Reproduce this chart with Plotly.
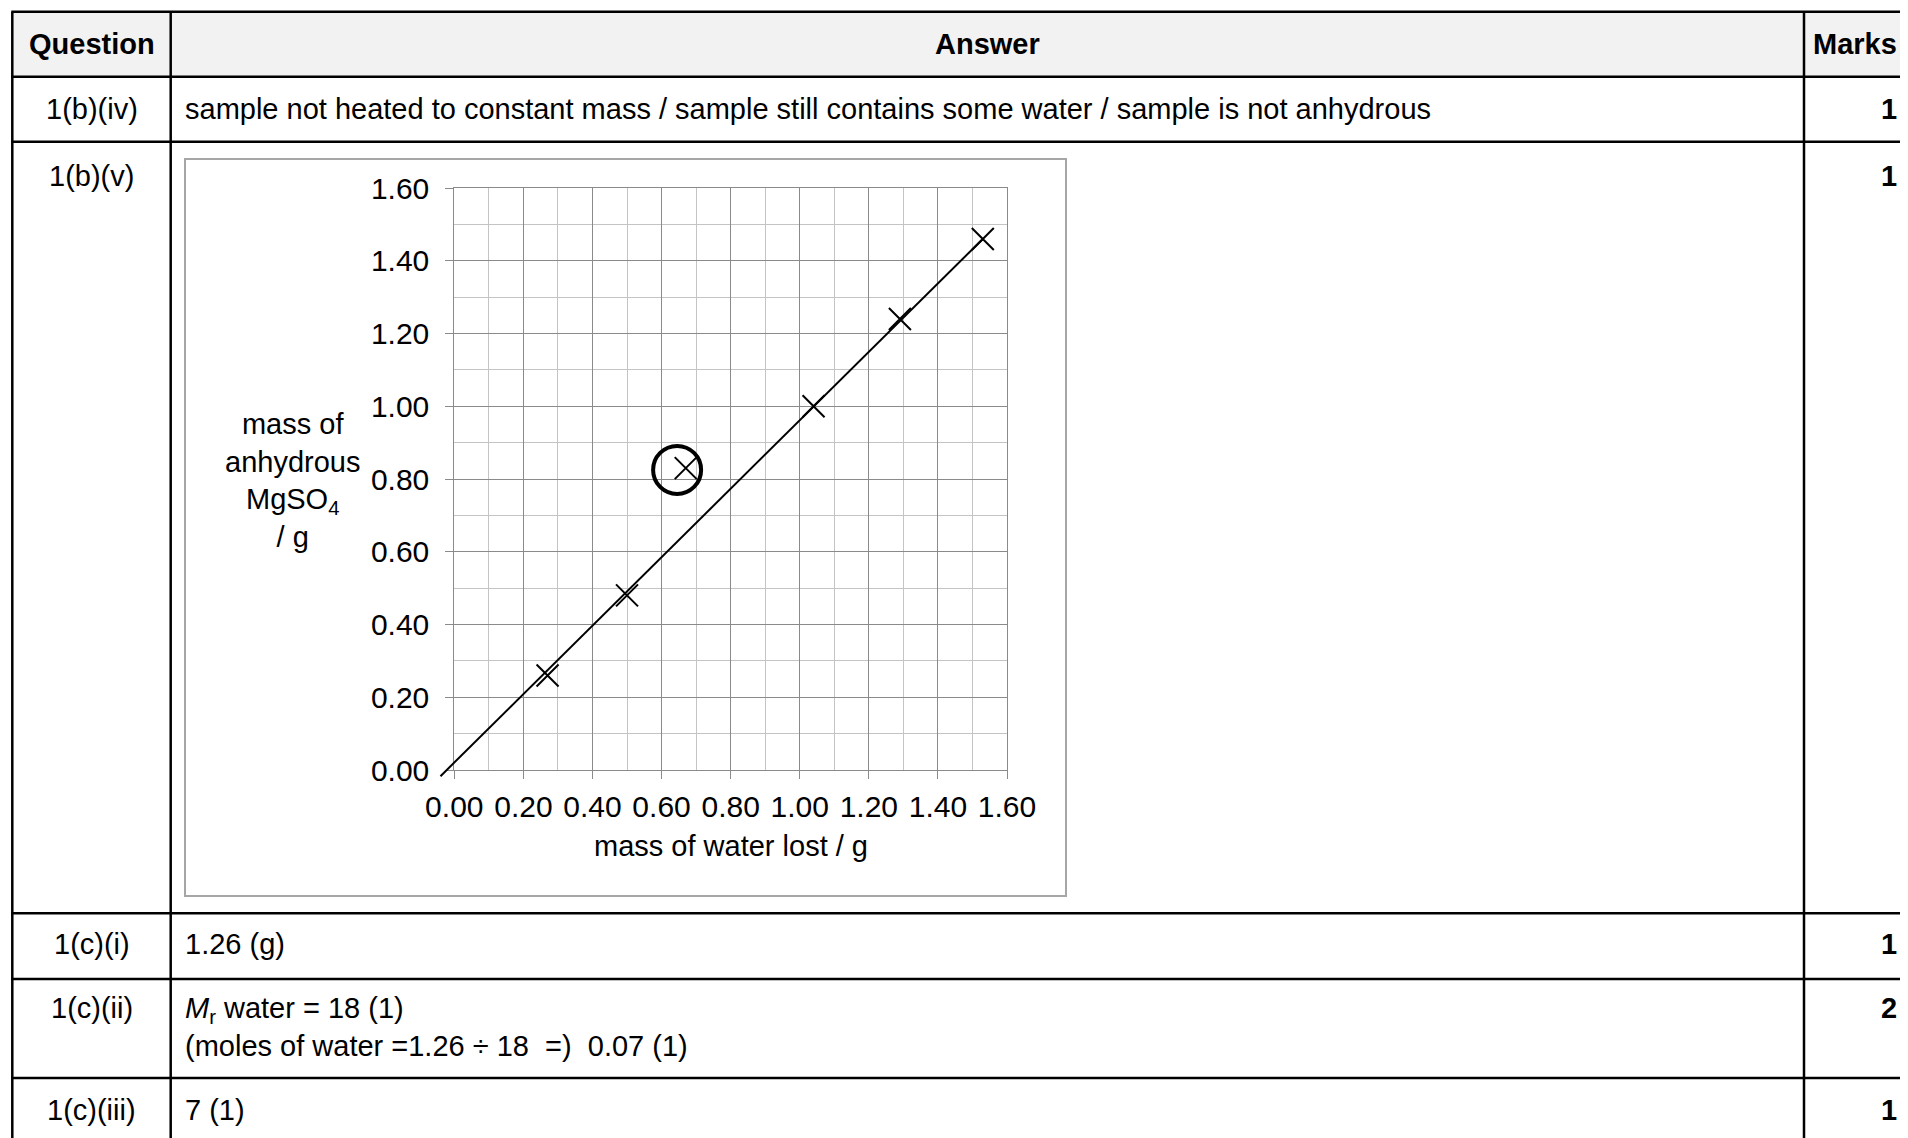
import plotly.graph_objects as go

# table content
questions = ["1(b)(iv)", "1(b)(v)", "1(c)(i)", "1(c)(ii)", "1(c)(iii)"]
answers = [
    "sample not heated to constant mass / sample still contains some water / sample is not anhydrous",
    "",
    "1.26 (g)",
    "<i>M</i><sub>r</sub> water = 18 (1)<br>(moles of water =1.26 ÷ 18  =)  0.07 (1)",
    "7 (1)",
]
marks = ["1", "1", "1", "2", "1"]

# graph data
water_lost = [0.27, 0.50, 1.04, 1.29, 1.53]
anhydrous_mass = [0.26, 0.48, 1.00, 1.24, 1.46]
anomaly_x = [0.67]
anomaly_y = [0.83]
ring_x = [0.645]
ring_y = [0.825]
fit_x = [-0.04, 1.53]
fit_y = [-0.017, 1.46]
tick_vals = [0.0, 0.2, 0.4, 0.6, 0.8, 1.0, 1.2, 1.4, 1.6]
tick_text = ["0.00", "0.20", "0.40", "0.60", "0.80", "1.00", "1.20", "1.40", "1.60"]
minor_vals = [0.1, 0.3, 0.5, 0.7, 0.9, 1.1, 1.3, 1.5]

W, H = 1908, 1138
OFF = 8  # the page body adds an 8px margin round the figure
FONT = "Liberation Sans, Arial, sans-serif"
FS = 29
TICK_FS = 30

# pixel layout of the page (window coordinates)
COLS = [12.3, 170.7, 1804]
ROWS = [11.7, 76.7, 141.7, 913.3, 979, 1078]
TEXT_Y = [109, 176, 944, 1008, 1110]
MARKS_RIGHT = 1899
PLOT_L, PLOT_R, PLOT_T, PLOT_B = 454.3, 1007, 188, 770
X_MAX = Y_MAX = 1.6
PAD = 0.06


def px(x):
    return (x - OFF) / W


def py(y):
    return 1 - (y - OFF) / H


sx = (PLOT_R - PLOT_L) / X_MAX
sy = (PLOT_B - PLOT_T) / Y_MAX

fig = go.Figure()

fig.add_trace(go.Scatter(
    x=water_lost, y=anhydrous_mass, mode="markers",
    marker=dict(symbol="x-thin", size=22, line=dict(color="black", width=2)),
    showlegend=False, hoverinfo="skip",
))
fig.add_trace(go.Scatter(
    x=anomaly_x, y=anomaly_y, mode="markers",
    marker=dict(symbol="x-thin", size=22, line=dict(color="black", width=2)),
    showlegend=False, hoverinfo="skip",
))
fig.add_trace(go.Scatter(
    x=ring_x, y=ring_y, mode="markers",
    marker=dict(symbol="circle-open", size=48, color="black", line=dict(color="black", width=4)),
    showlegend=False, hoverinfo="skip", cliponaxis=False,
))
# best-fit line on a slightly larger twin axis so it can run just past the origin
fig.add_trace(go.Scatter(
    x=fit_x, y=fit_y, mode="lines", line=dict(color="black", width=2),
    xaxis="x2", yaxis="y2", showlegend=False, hoverinfo="skip",
))

grid_major = "#8a8a8a"
grid_minor = "#c4c4c4"
axis_common = dict(
    tickmode="array", tickvals=tick_vals, ticktext=tick_text,
    showgrid=True, gridcolor=grid_major, gridwidth=1,
    minor=dict(tickmode="array", tickvals=minor_vals, showgrid=True,
               gridcolor=grid_minor, gridwidth=1, ticks=""),
    ticks="outside", ticklen=8, tickwidth=1, tickcolor=grid_major,
    showline=True, linecolor=grid_major, linewidth=1, mirror=True,
    zeroline=False, tickfont=dict(family=FONT, size=TICK_FS, color="black"),
    fixedrange=True, automargin=False,
)

fig.update_layout(
    template="none",
    width=W, height=H,
    margin=dict(l=0, r=0, t=0, b=0, pad=0, autoexpand=False),
    paper_bgcolor="white", plot_bgcolor="rgba(0,0,0,0)",
    font=dict(family=FONT, size=FS, color="black"),
    showlegend=False,
    xaxis=dict(domain=[px(PLOT_L), px(PLOT_R)], range=[0, X_MAX],
               anchor="y", ticklabelstandoff=2, **axis_common),
    yaxis=dict(domain=[py(PLOT_B), py(PLOT_T)], range=[0, Y_MAX],
               anchor="x", ticklabelstandoff=10, **axis_common),
    xaxis2=dict(domain=[px(PLOT_L - PAD * sx), px(PLOT_R)], range=[-PAD, X_MAX],
                anchor="y2", visible=False, fixedrange=True, automargin=False),
    yaxis2=dict(domain=[py(PLOT_B + PAD * sy), py(PLOT_T)], range=[-PAD, Y_MAX],
                anchor="x2", visible=False, fixedrange=True, automargin=False),
)

shapes = []
# header fill
shapes.append(dict(type="rect", xref="paper", yref="paper",
                   x0=px(COLS[0]), x1=1, y0=py(ROWS[0]), y1=py(ROWS[1]),
                   fillcolor="#f2f2f2", line=dict(width=0), layer="below"))
# chart frame
shapes.append(dict(type="rect", xref="paper", yref="paper",
                   x0=px(185), x1=px(1066), y0=py(159), y1=py(896),
                   line=dict(color="#a6a6a6", width=2), layer="below"))
for r in ROWS:
    shapes.append(dict(type="line", xref="paper", yref="paper",
                       x0=px(COLS[0] - 1), x1=1, y0=py(r), y1=py(r),
                       line=dict(color="black", width=2.5)))
for c in COLS:
    shapes.append(dict(type="line", xref="paper", yref="paper",
                       x0=px(c), x1=px(c), y0=py(ROWS[0]), y1=0,
                       line=dict(color="black", width=2.5)))
fig.update_layout(shapes=shapes)

ann = []


def text(x, y, s, xanchor="center", yanchor="middle", bold=False, align="left"):
    ann.append(dict(x=px(x), y=py(y), xref="paper", yref="paper",
                    text=f"<b>{s}</b>" if bold else s, showarrow=False,
                    xanchor=xanchor, yanchor=yanchor, align=align,
                    font=dict(family=FONT, size=FS, color="black")))


text((COLS[0] + COLS[1]) / 2, 44, "Question", bold=True)
text((COLS[1] + COLS[2]) / 2, 44, "Answer", bold=True)
text(MARKS_RIGHT, 44, "Marks", xanchor="right", bold=True)

for q, a, m, y in zip(questions, answers, marks, TEXT_Y):
    text((COLS[0] + COLS[1]) / 2, y, q)
    if "<br>" in a:
        # multi-line answer: hang it from the first line's position
        text(183, y - 18, a, xanchor="left", yanchor="top")
    elif a:
        text(183, y, a, xanchor="left")
    text(MARKS_RIGHT, y, m, xanchor="right", bold=True)

text(292, 480, "mass of<br>anhydrous<br>MgSO<sub>4</sub><br>/ g", align="center")
text((PLOT_L + PLOT_R) / 2, 846, "mass of water lost / g")

fig.update_layout(annotations=ann)

fig.write_html("out.html")
